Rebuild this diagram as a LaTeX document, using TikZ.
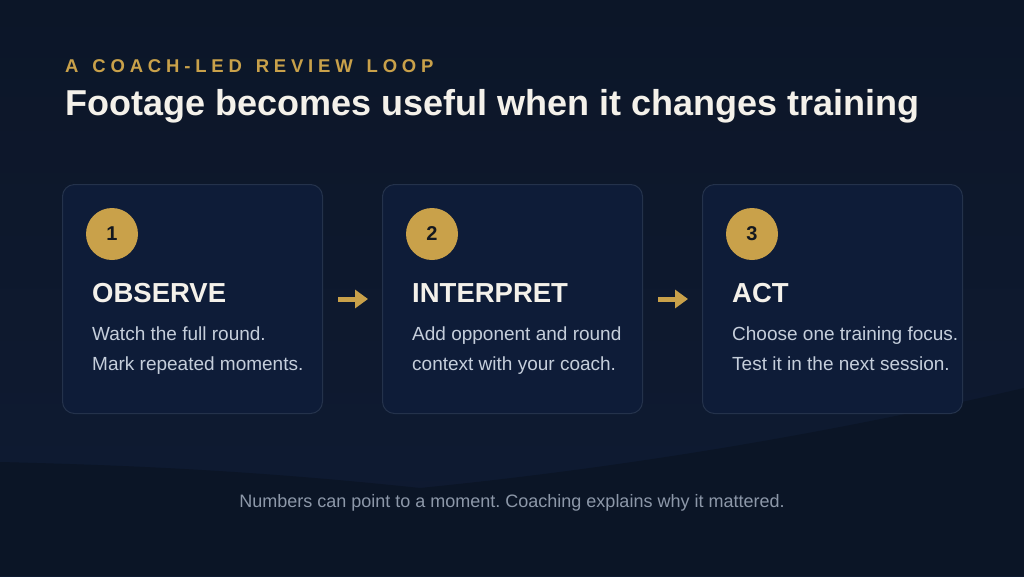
\documentclass[tikz,border=0pt]{standalone}
\usepackage{fontspec}
\setmainfont{Liberation Sans}
\usetikzlibrary{arrows.meta,calc}
\frenchspacing

\definecolor{bgnavy}{HTML}{0B1526}
\definecolor{bgtop}{HTML}{0C1628}
\definecolor{wavenavy}{HTML}{0F1B33}
\definecolor{cardnavy}{HTML}{0E1C38}
\definecolor{cardedge}{HTML}{24324B}
\definecolor{gold}{HTML}{C9A14A}
\definecolor{titlewhite}{HTML}{F4F1EA}
\definecolor{bodygrey}{HTML}{C5CEDB}
\definecolor{footgrey}{HTML}{8D98A9}
\definecolor{numdark}{HTML}{14181F}

\tikzset{
  card/.style={draw=cardedge, line width=1pt, fill=cardnavy, rounded corners=12pt,
    minimum width=260pt, minimum height=229pt, inner sep=0pt},
  badge/.style={circle, fill=gold, minimum size=52pt, inner sep=0pt,
    text=numdark, font=\fontsize{20}{24}\selectfont\bfseries},
  cardtitle/.style={anchor=base west, inner sep=0pt, text=titlewhite,
    font=\fontsize{27.5}{30}\selectfont\bfseries},
  cardbody/.style={anchor=base west, inner sep=0pt, text=bodygrey,
    font=\fontsize{19}{22}\selectfont},
  flow/.style={draw=gold, line width=5pt, -{Triangle[length=13pt,width=18pt]},
    shorten <=15pt, shorten >=14pt},
}

\newcommand{\stepcard}[6]{% card #1, left edge at x=#2
  \node[card, anchor=north west] (#1) at (#2,184) {};
  \node[badge] (#1num) at ($(#1.north west)+(50,50)$) {#3};
  \node[cardtitle] (#1title) at ($(#1.north west)+(30,118)$) {#4};
  \node[cardbody] (#1one) at ($(#1.north west)+(30,156)$) {#5};
  \node[cardbody] (#1two) at ($(#1.north west)+(30,186)$) {#6};
}
\newcommand{\kgap}{\hspace{0.75em}}

\begin{document}
\begin{tikzpicture}[x=1pt,y=-1pt]
  \shade[top color=bgtop, bottom color=wavenavy] (0,0) rectangle (1024,576);
  \useasboundingbox (0,0) rectangle (1024,576);
  % darker floor below the soft band
  \fill[bgnavy] (1024,388) .. controls (800,440) and (600,470) .. (420,488)
    .. controls (250,470) and (120,465) .. (0,462) -- (0,576) -- (1024,576) -- cycle;

  \node[anchor=base west, inner sep=0pt, text=gold,
    font=\fontsize{18.5}{20}\selectfont\bfseries\addfontfeature{LetterSpace=26}]
    (kicker) at (65,72) {A\kgap COACH-LED\kgap REVIEW\kgap LOOP};
  \node[anchor=base west, inner sep=0pt, text=titlewhite,
    font=\fontsize{36}{40}\selectfont\bfseries]
    (headline) at (65,115) {Footage becomes useful when it changes training};

  \stepcard{observe}{62}{1}{OBSERVE}{Watch the full round.}{Mark repeated moments.}
  \stepcard{interpret}{382}{2}{INTERPRET}{Add opponent and round}{context with your coach.}
  \stepcard{act}{702}{3}{ACT}{Choose one training focus.}{Test it in the next session.}

  \draw[flow] (observe) -- (interpret);
  \draw[flow] (interpret) -- (act);

  \node[anchor=base, inner sep=0pt, text=footgrey, font=\fontsize{18}{20}\selectfont]
    (footer) at (512,507) {Numbers can point to a moment. Coaching explains why it mattered.};
\end{tikzpicture}
\end{document}
